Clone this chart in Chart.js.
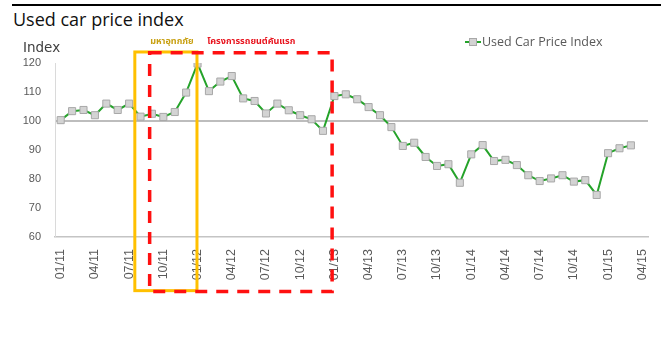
<!DOCTYPE html>
<html>
<head>
<meta charset="utf-8">
<script src="https://cdn.jsdelivr.net/npm/chart.js@4/dist/chart.umd.min.js"></script>
<style>
  html, body { margin: 0; padding: 0; background: #fff; }
  #wrap { position: relative; width: 661px; height: 341px; overflow: hidden; }
  #rule { position: absolute; left: 12px; top: 4px; width: 649px; height: 2px; background: #000; }
  #title { position: absolute; left: 13px; top: 7px; font: 18px "Open Sans", "Noto Sans", sans-serif; color: #111; white-space: nowrap; }
  canvas { position: absolute; left: 0; top: 0; }
</style>
</head>
<body>
<div id="wrap">
  <div id="rule"></div>
  <div id="title">Used car price index</div>
  <canvas id="c" width="661" height="341"></canvas>
</div>
<script>
// Monthly labels, Jan 2011 – Apr 2015 (MM/YY)
const months = [
  '01/11','02/11','03/11','04/11','05/11','06/11','07/11','08/11','09/11','10/11','11/11','12/11',
  '01/12','02/12','03/12','04/12','05/12','06/12','07/12','08/12','09/12','10/12','11/12','12/12',
  '01/13','02/13','03/13','04/13','05/13','06/13','07/13','08/13','09/13','10/13','11/13','12/13',
  '01/14','02/14','03/14','04/14','05/14','06/14','07/14','08/14','09/14','10/14','11/14','12/14',
  '01/15','02/15','03/15','04/15'
];

// Used Car Price Index (monthly)
const priceIndex = [
  100.3, 103.4, 103.8, 102.0, 106.0, 103.8, 106.0, 101.5, 102.5, 101.4, 103.1, 109.8,
  119.8, 110.3, 113.6, 115.5, 107.8, 106.9, 102.6, 106.0, 103.7, 102.0, 100.6, 96.6,
  108.6, 109.2, 107.5, 104.8, 102.0, 97.9, 91.4, 92.5, 87.6, 84.5, 85.1, 78.7,
  88.5, 91.7, 86.2, 86.6, 84.8, 81.3, 79.3, 80.2, 81.3, 79.1, 79.6, 74.5,
  88.9, 90.6, 91.6, null
];

// Y axis range and step
const yMin = 60, yMax = 120, yStep = 10, baseLine = 100;

// Highlighted periods (month-index spans) and their captions
const floodSpan = [6.5, 11.95];
const firstCarSpan = [7.8, 23.8];
const floodCaption = 'มหาอุทกภัย';
const firstCarCaption = 'โครงการรถยนต์คันแรก';
const seriesName = 'Used Car Price Index';

const LINE_GREEN = '#25a32a';
const MARK_FILL = '#d3d3d3';
const MARK_EDGE = '#a8a8a8';
const TEXT_GREY = '#595959';
const THAI_FONT = '"Noto Sans Thai", "Loma", "Garuda", "Tlwg Typo", "DejaVu Sans", sans-serif';

// Period boxes, captions, axis caption and legend drawn on top of the plot
const overlay = {
  id: 'overlay',
  afterDatasetsDraw(chart) {
    const { ctx, scales: { x, y } } = chart;
    ctx.save();

    // Flood period box (solid orange)
    const oL = x.getPixelForValue(floodSpan[0]);
    const oR = x.getPixelForValue(floodSpan[1]);
    const oT = y.getPixelForValue(123.8);
    const oB = y.getPixelForValue(41.5);
    ctx.strokeStyle = '#ffc000';
    ctx.lineWidth = 3;
    ctx.setLineDash([]);
    ctx.strokeRect(oL, oT, oR - oL, oB - oT);

    // First-car scheme period box (dashed red)
    const rL = x.getPixelForValue(firstCarSpan[0]);
    const rR = x.getPixelForValue(firstCarSpan[1]);
    const rT = y.getPixelForValue(123.5);
    const rB = y.getPixelForValue(41.2);
    ctx.strokeStyle = '#ff1010';
    ctx.lineWidth = 3.5;
    ctx.setLineDash([12, 9]);
    ctx.strokeRect(rL, rT, rR - rL, rB - rT);
    ctx.setLineDash([]);

    // Captions above the boxes
    ctx.textBaseline = 'middle';
    ctx.font = 'bold 9px ' + THAI_FONT;
    ctx.fillStyle = '#c8a012';
    ctx.textAlign = 'center';
    ctx.fillText(floodCaption, x.getPixelForValue(9.75), 42);
    ctx.fillStyle = '#e8141e';
    ctx.textAlign = 'left';
    ctx.fillText(firstCarCaption, x.getPixelForValue(12.85), 42);

    // Axis caption
    ctx.font = '13.5px "DejaVu Sans", sans-serif';
    ctx.fillStyle = '#404040';
    ctx.textAlign = 'left';
    ctx.fillText('Index', 23, 48);

    // Legend
    const lx = 465, ly = 42;
    ctx.strokeStyle = LINE_GREEN;
    ctx.lineWidth = 2;
    ctx.beginPath();
    ctx.moveTo(lx, ly);
    ctx.lineTo(lx + 16, ly);
    ctx.stroke();
    ctx.fillStyle = MARK_FILL;
    ctx.strokeStyle = MARK_EDGE;
    ctx.lineWidth = 1;
    ctx.fillRect(lx + 4.5, ly - 3.5, 7, 7);
    ctx.strokeRect(lx + 4.5, ly - 3.5, 7, 7);
    ctx.font = '12.5px "Open Sans", "Noto Sans", sans-serif';
    ctx.fillStyle = TEXT_GREY;
    ctx.fillText(seriesName, lx + 17, ly);

    ctx.restore();
  }
};

new Chart(document.getElementById('c'), {
  type: 'line',
  data: {
    labels: months,
    datasets: [{
      label: seriesName,
      data: priceIndex,
      borderColor: LINE_GREEN,
      borderWidth: 2,
      tension: 0,
      pointStyle: 'rect',
      pointRadius: 5,
      pointBackgroundColor: MARK_FILL,
      pointBorderColor: MARK_EDGE,
      pointBorderWidth: 1,
      spanGaps: false
    }]
  },
  options: {
    responsive: false,
    animation: false,
    events: [],
    layout: { padding: { top: 63, right: 13, bottom: 0, left: 0 } },
    plugins: {
      legend: { display: false },
      title: { display: false },
      tooltip: { enabled: false }
    },
    scales: {
      x: {
        type: 'category',
        offset: true,
        grid: { display: false, drawTicks: false },
        border: { display: true, color: '#c4c4c4', width: 1.5 },
        ticks: {
          autoSkip: false,
          minRotation: 90,
          maxRotation: 90,
          padding: 12,
          color: TEXT_GREY,
          font: { family: '"Liberation Sans", sans-serif', size: 12.5 },
          callback: (v, i) => (i % 3 === 0 ? months[i] : '')
        },
        afterFit(scale) {
          scale.height = 104;
          scale.paddingLeft = 0;
          scale.paddingRight = 0;
        }
      },
      y: {
        min: yMin,
        max: yMax,
        grid: {
          drawTicks: false,
          color: ctx => (ctx.tick && ctx.tick.value === baseLine ? '#bdbdbd' : 'rgba(0,0,0,0)'),
          lineWidth: ctx => (ctx.tick && ctx.tick.value === baseLine ? 2 : 0)
        },
        border: { display: true, color: '#dadada', width: 1 },
        ticks: {
          stepSize: yStep,
          padding: 14,
          color: TEXT_GREY,
          font: { family: '"Liberation Sans", sans-serif', size: 11 }
        },
        afterFit(scale) { scale.width = 55; }
      }
    }
  },
  plugins: [overlay]
});
</script>
</body>
</html>
